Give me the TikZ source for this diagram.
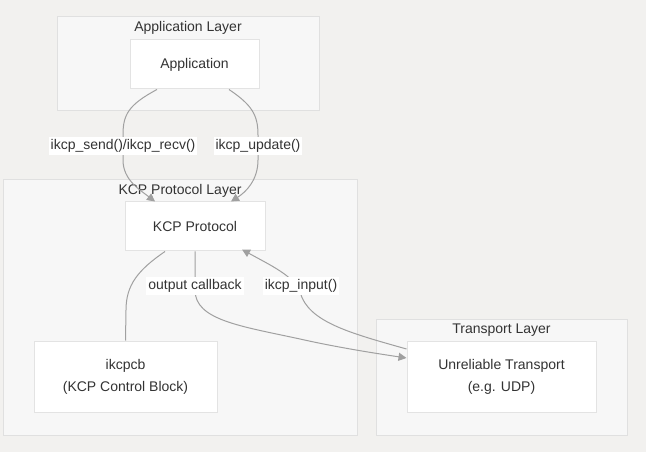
\documentclass[tikz,border=0pt]{standalone}
\usepackage{fontspec}
\setmainfont{Liberation Sans}
\usetikzlibrary{arrows.meta,calc}
\definecolor{bgc}{HTML}{F2F1EF}
\definecolor{clfill}{HTML}{F7F7F7}
\definecolor{cldraw}{HTML}{E0E0E0}
\definecolor{nddraw}{HTML}{E3E3E3}
\definecolor{txt}{HTML}{333333}
\definecolor{edgec}{HTML}{A0A0A0}
\begin{document}
\begin{tikzpicture}[x=0.75pt,y=-0.75pt,
  cluster/.style={draw=cldraw,fill=clfill,line width=0.75pt,inner sep=0pt},
  box/.style={draw=nddraw,fill=white,line width=0.75pt,inner sep=0pt,align=center,text=txt,
    font=\fontsize{10.5}{16.5}\selectfont},
  ttl/.style={text=txt,inner sep=0pt,font=\fontsize{10.5}{12}\selectfont},
  elabel/.style={fill=white,text=txt,inner sep=1.5pt,font=\fontsize{10.5}{12}\selectfont},
  conn/.style={draw=edgec,line width=0.75pt},
  arr/.style={conn,-{Triangle[length=6pt,width=6pt]}}]
\useasboundingbox[fill=bgc] (0,0) rectangle (646,452);
% clusters
\node[cluster,minimum width=262*0.75pt,minimum height=94*0.75pt] (appL) at (188,64) {};
\node[cluster,minimum width=354*0.75pt,minimum height=255*0.75pt] (kcpL) at (180,307.5) {};
\node[cluster,minimum width=251*0.75pt,minimum height=116*0.75pt] (trL) at (501.5,377) {};
\node[ttl] (appT) at (188,28) {Application Layer};
\node[ttl] (kcpT) at (180,191) {KCP Protocol Layer};
\node[ttl] (trT) at (501.5,330) {Transport Layer};
% nodes
\node[box,minimum width=129*0.75pt,minimum height=49*0.75pt] (app) at (194.5,64.5) {Application};
\node[box,minimum width=140*0.75pt,minimum height=49*0.75pt] (kcp) at (195,226.5) {KCP Protocol};
\node[box,minimum width=183*0.75pt,minimum height=71*0.75pt] (cb) at (125.5,376.5) {ikcpcb\\(KCP Control Block)};
\node[box,minimum width=189*0.75pt,minimum height=71*0.75pt] (udp) at (501.5,376.5) {Unreliable Transport\\(e.g. UDP)};
% edges
\draw[arr] ($(app.south)+(-37.5,0)$) .. controls (128,105) and (123,115) .. (123,135) -- (123,160)
  .. controls (123,180) and (140,190) .. ($(kcp.north)+(-40,0)$);
\draw[arr] ($(app.south)+(34.5,0)$) .. controls (252,105) and (258,115) .. (258,135) -- (258,160)
  .. controls (258,180) and (246,192) .. ($(kcp.north)+(36,0)$);
\draw[conn] ($(kcp.south)+(-30,0)$) .. controls (138,270) and (126,285) .. (126,310) -- (cb.north);
\draw[arr] (kcp.south) -- (195,290) .. controls (195,320) and (240,326) .. (300,339)
  .. controls (340,348) and (380,354) .. ($(udp.west)+(0,-18.5)$);
\draw[arr] ($(udp.west)+(0,-27.5)$) .. controls (350,333) and (308,322) .. (300,292)
  .. controls (294,276) and (270,265) .. ($(kcp.south)+(47,-2)$);
% edge labels
\node[elabel] (l1) at (123,146) {ikcp\_send()/ikcp\_recv()};
\node[elabel] (l2) at (258,146) {ikcp\_update()};
\node[elabel] (l3) at (195,286) {output callback};
\node[elabel] (l4) at (301,286) {ikcp\_input()};
\end{tikzpicture}
\end{document}
